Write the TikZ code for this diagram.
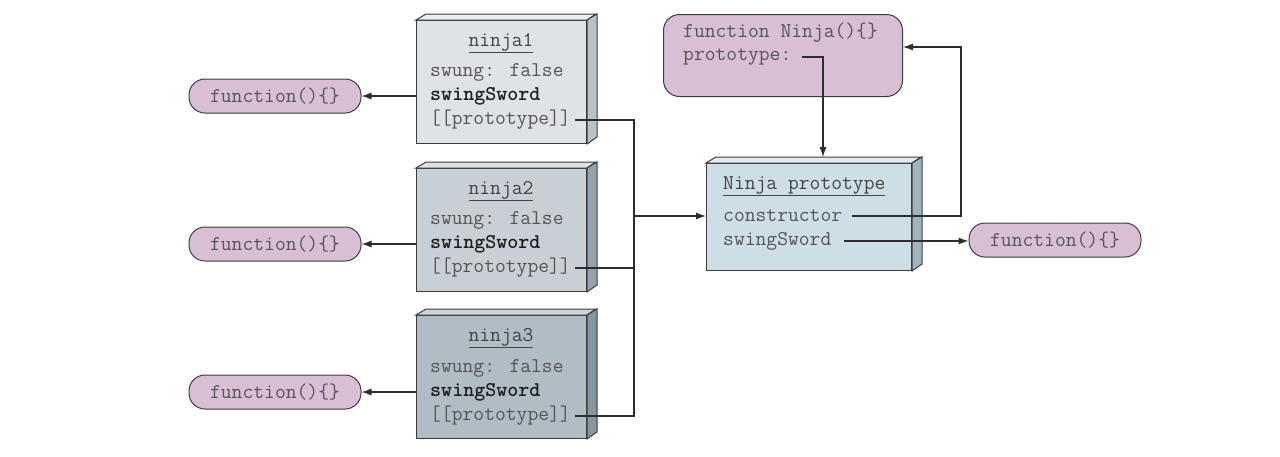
\documentclass[tikz,border=0pt]{standalone}
\usepackage{fontspec}
\usetikzlibrary{arrows.meta}
\definecolor{purp}{RGB}{216,191,214}
\definecolor{edge}{RGB}{60,60,60}
\definecolor{linec}{RGB}{45,45,45}
\definecolor{txtgray}{RGB}{85,85,85}
\definecolor{txtdark}{RGB}{30,30,30}
\definecolor{aaf}{RGB}{223,227,231}
\definecolor{aat}{RGB}{236,239,241}
\definecolor{aas}{RGB}{184,194,201}
\definecolor{bbf}{RGB}{201,208,213}
\definecolor{bbt}{RGB}{222,226,229}
\definecolor{bbs}{RGB}{150,163,172}
\definecolor{ccf}{RGB}{177,189,197}
\definecolor{cct}{RGB}{205,212,217}
\definecolor{ccs}{RGB}{134,150,160}
\definecolor{ppf}{RGB}{206,222,231}
\definecolor{ppt}{RGB}{225,235,241}
\definecolor{pps}{RGB}{160,180,192}
\tikzset{
  face/.style={draw=edge, line width=1pt, inner sep=0pt},
  txt/.style={font=\ttfamily\fontsize{21}{24}\selectfont, text=txtgray, inner sep=0pt, anchor=west},
  boldtxt/.style={txt, font=\ttfamily\bfseries\fontsize{21}{24}\selectfont, text=txtdark},
  ttl/.style={txt, text=txtgray!80!black},
  pill/.style={draw=edge, fill=purp, rounded corners=16pt, minimum width=172pt, minimum height=34pt, line width=1pt, font=\ttfamily\fontsize{21}{24}\selectfont, text=txtgray, inner sep=0pt},
  conn/.style={draw=linec, line width=1.1pt},
  arr/.style={conn, -{Latex[length=10pt,width=7pt]}},
}
\newcommand\cubebox[6]{%
  \node[face, fill=#6f, minimum width=#4pt, minimum height=#5pt, anchor=north west] (#1) at (#2,#3) {};
  \draw[face, fill=#6t] (#1.north west) -- ++(10,-6) -- ++(#4,0) -- (#1.north east) -- cycle;
  \draw[face, fill=#6s] (#1.north east) -- ++(10,-6) -- ++(0,#5) -- (#1.south east) -- cycle;}
\begin{document}
\begin{tikzpicture}[x=1pt,y=-1pt]
\useasboundingbox (0,0) rectangle (1280,456);
% ninja boxes
\cubebox{n1}{416}{20}{170}{123}{aa}
\cubebox{n2}{416}{168}{170}{123}{bb}
\cubebox{n3}{416}{315}{170}{123}{cc}
\node[ttl, anchor=center] (n1t) at (501,43) {\underline{ninja1}};
\node[txt] (n1a) at (430,72) {swung: false};
\node[boldtxt] (n1b) at (430,96) {swingSword};
\node[txt] (n1c) at (430,120) {[[prototype]]};
\node[ttl, anchor=center] (n2t) at (501,191) {\underline{ninja2}};
\node[txt] (n2a) at (430,220) {swung: false};
\node[boldtxt] (n2b) at (430,244) {swingSword};
\node[txt] (n2c) at (430,268) {[[prototype]]};
\node[ttl, anchor=center] (n3t) at (501,338) {\underline{ninja3}};
\node[txt] (n3a) at (430,368) {swung: false};
\node[boldtxt] (n3b) at (430,392) {swingSword};
\node[txt] (n3c) at (430,416) {[[prototype]]};
% left pills
\node[pill] (f1) at (275,96) {function()\{\}};
\node[pill] (f2) at (275,244) {function()\{\}};
\node[pill] (f3) at (275,392) {function()\{\}};
\draw[arr] (n1.west |- f1) -- (f1.east);
\draw[arr] (n2.west |- f2) -- (f2.east);
\draw[arr] (n3.west |- f3) -- (f3.east);
% Ninja prototype
\cubebox{np}{706}{163}{205}{107}{pp}
\node[ttl] (npa) at (723,186) {\underline{Ninja prototype}};
\node[txt] (npb) at (723,216) {constructor};
\node[txt] (npc) at (723,241) {swingSword};
% Ninja function
\node[draw=edge, fill=purp, line width=1pt, rounded corners=16pt, minimum width=239pt, minimum height=82pt, anchor=north west] (nf) at (663,14) {};
\node[txt] (nfa) at (683,33) {function Ninja()\{\}};
\node[txt] (nfb) at (683,57) {prototype:};
% right pill
\node[pill] (fr) at (1055,240) {function()\{\}};
% bus
\coordinate (j) at (634,216);
\draw[conn] ([xshift=4pt]n1c.east) -- (n1c.east -| j) -- (n3c.east -| j) -- ([xshift=4pt]n3c.east);
\draw[conn] ([xshift=4pt]n2c.east) -- (n2c.east -| j);
\draw[arr] (j) -- (np.west |- j);
% prototype link
\coordinate (d) at (823,56);
\draw[arr] ([xshift=10pt]nfb.east) -- (nfb.east -| d) -- ([yshift=6pt]np.north -| d);
% constructor link
\coordinate (c) at (961,47);
\draw[arr] ([xshift=10pt]npb.east) -- (npb.east -| c) -- (c) -- (nf.east |- c);
% swingSword link
\draw[arr] ([xshift=12pt]npc.east) -- (fr.west |- npc);
\end{tikzpicture}
\end{document}
